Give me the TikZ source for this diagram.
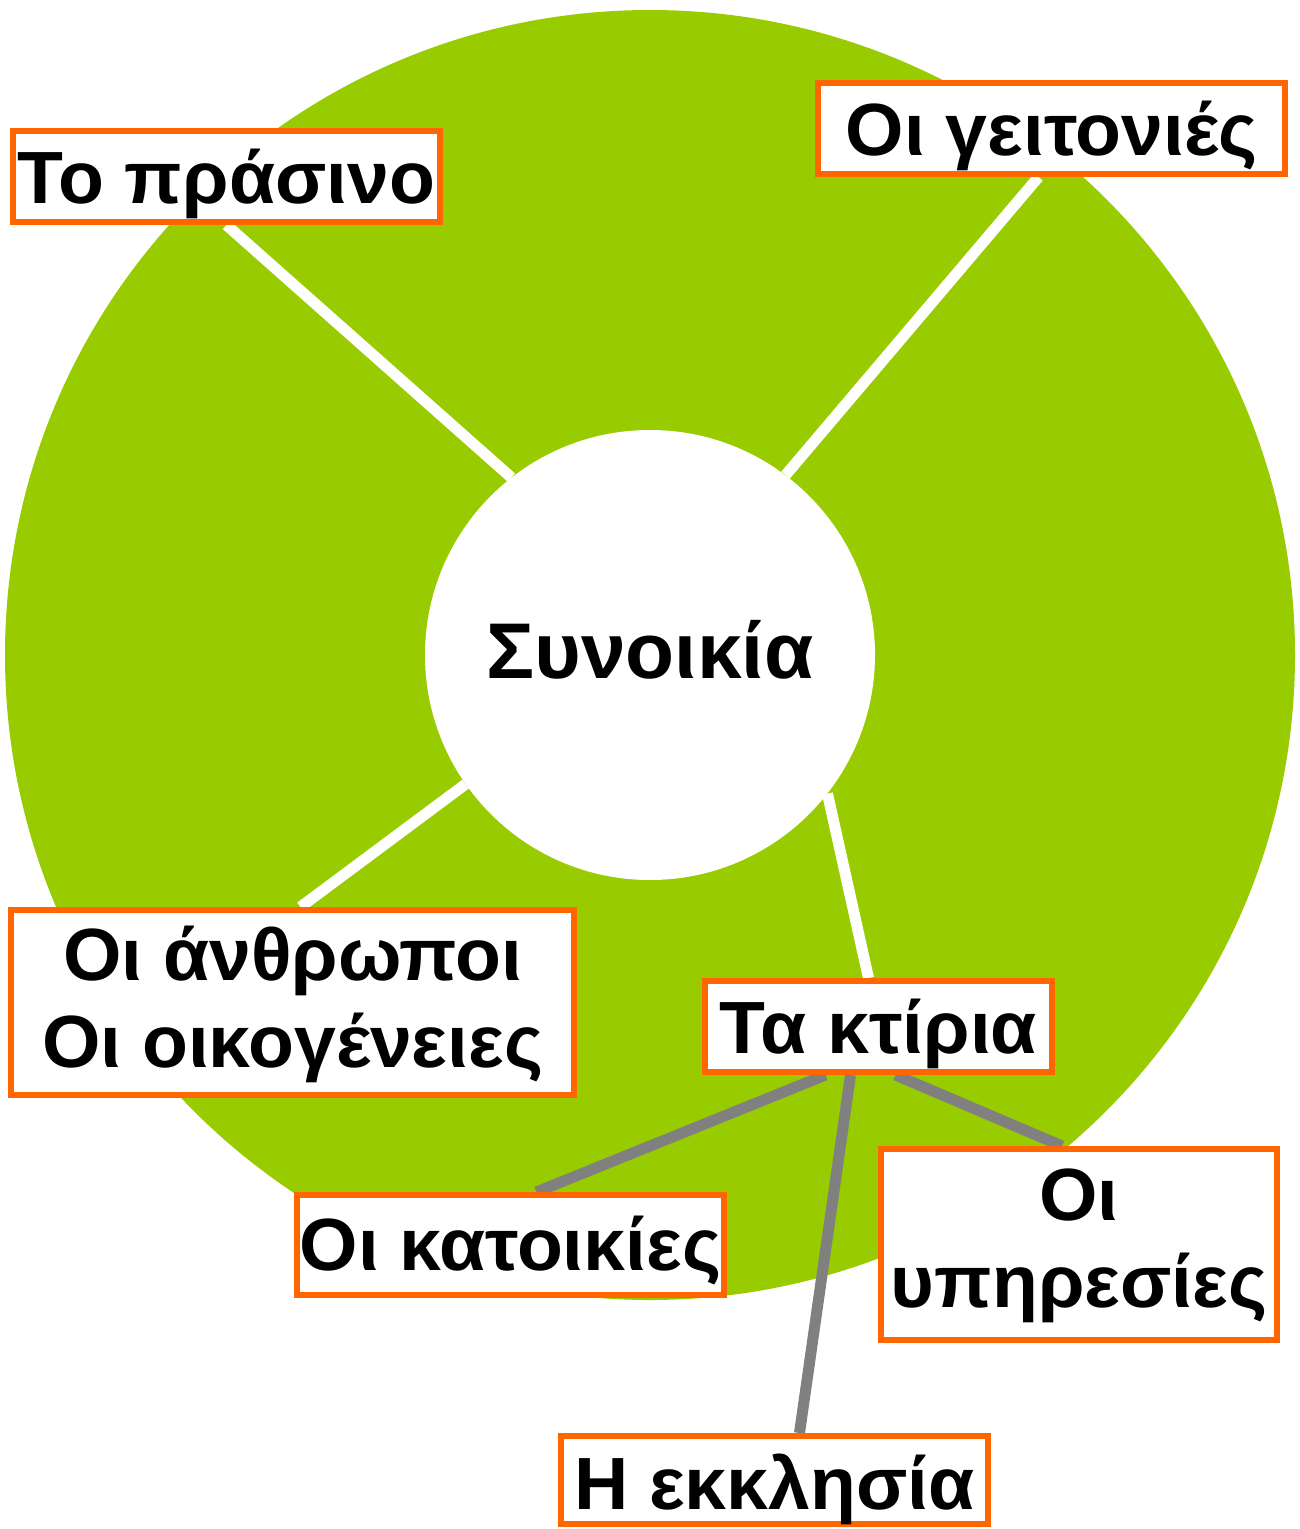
\documentclass[tikz,border=0pt]{standalone}
\usepackage{fontspec}
\setmainfont{Liberation Sans}[FakeStretch=1.015]
\definecolor{leaf}{HTML}{99CC00}
\definecolor{edge}{HTML}{FF6600}
\definecolor{link}{HTML}{808080}
\pgfdeclarelayer{bg}
\pgfdeclarelayer{mid}
\pgfsetlayers{bg,mid,main}
\tikzset{
  lbl/.style={draw=edge, line width=6pt, fill=white, inner sep=0pt, align=center,
    font=\fontsize{74}{87}\selectfont\bfseries, text height=68pt, text depth=15pt},
  wline/.style={white, line width=11pt},
  gline/.style={link, line width=11pt}
}
\begin{document}
\begin{tikzpicture}[x=1pt,y=-1pt]
\useasboundingbox (0,0) rectangle (1299,1529);
\begin{pgfonlayer}{bg}
\fill[leaf] (650,655) circle[radius=645];
\end{pgfonlayer}
\node[circle, fill=white, minimum size=450pt, inner sep=0pt, text height=62pt, text depth=16pt,
  font=\fontsize{79}{90}\selectfont\bfseries] (hub) at (650,655) {Συνοικία};
\node[lbl, minimum width=427pt, minimum height=91pt] (prasino) at (226.5,176.5) {Το πράσινο};
\node[lbl, minimum width=467pt, minimum height=91pt] (geit) at (1051.5,128.5) {Οι γειτονιές};
\node[lbl, minimum width=563pt, minimum height=185pt, text height=149pt, text depth=20pt] (anthr) at (292.5,1002.5) {Οι άνθρωποι\\Οι οικογένειες};
\node[lbl, minimum width=347pt, minimum height=91pt] (ktiria) at (878.5,1026.5) {Τα κτίρια};
\node[lbl, minimum width=427pt, minimum height=100pt, text height=65pt, text depth=15pt] (katoik) at (510.5,1245) {Οι κατοικίες};
\node[lbl, minimum width=396pt, minimum height=191pt, text height=147pt, text depth=22pt] (ypir) at (1079,1244.5) {Οι\\υπηρεσίες};
\node[lbl, minimum width=427pt, minimum height=88pt, text height=72pt, text depth=14pt] (ekkl) at (774.5,1480) {Η εκκλησία};
\begin{pgfonlayer}{mid}
\draw[wline] (prasino.south) -- (hub.128);
\draw[wline] ([xshift=-13pt]geit.south) -- (hub.53);
\draw[wline] ([xshift=8pt]anthr.north) -- (hub.215);
\draw[wline] ([xshift=-10pt]ktiria.north) -- (hub.-38);
\draw[gline] ([xshift=-53pt]ktiria.south) -- ([xshift=26pt]katoik.north);
\draw[gline] ([xshift=-28pt]ktiria.south) -- ([xshift=25pt]ekkl.north);
\draw[gline] ([xshift=17pt]ktiria.south) -- ([xshift=-17pt]ypir.north);
\end{pgfonlayer}
\end{tikzpicture}
\end{document}
